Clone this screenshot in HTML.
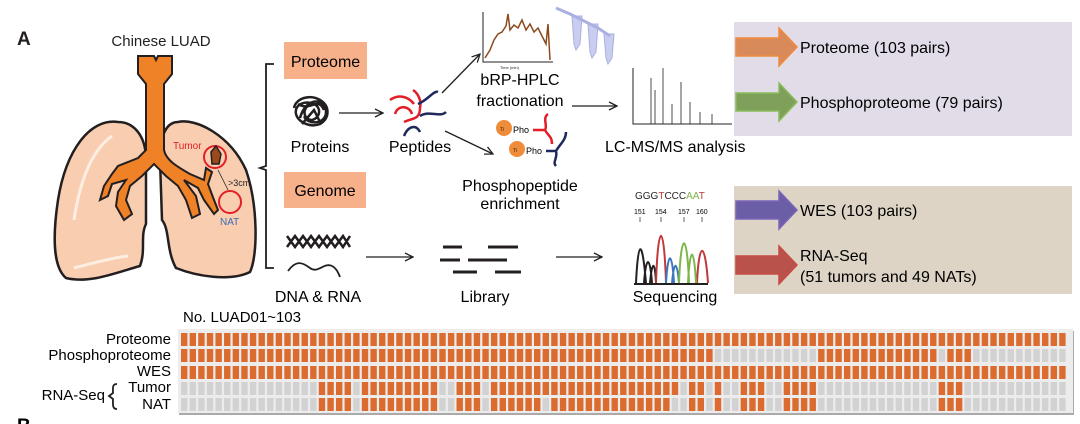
<!DOCTYPE html>
<html><head><meta charset="utf-8"><style>
html,body{margin:0;padding:0;background:#fff;}
body{width:1080px;height:424px;position:relative;overflow:hidden;font-family:"Liberation Sans",Arial,sans-serif;color:#231f20;}
</style></head><body>
<svg width="1080" height="424" style="position:absolute;left:0;top:0" font-family="Liberation Sans, Arial, sans-serif">
<defs>
<marker id="ah" markerWidth="10" markerHeight="10" refX="9" refY="5" orient="auto" markerUnits="userSpaceOnUse"><path d="M1,1 L9,5 L1,9" fill="none" stroke="#231f20" stroke-width="1.3"/></marker>
</defs>
<text x="17" y="45" font-size="19" font-weight="bold" fill="#231f20">A</text>
<text x="161" y="46" font-size="15" text-anchor="middle" fill="#231f20">Chinese LUAD</text>
<path d="M118,122 C90,118 66,150 58,200 C52,240 54,268 66,278 C90,284 118,272 140,266 C146,250 140,236 146,224 L146,160 C146,136 134,122 118,122 Z" fill="#f9cdb0" stroke="#231f20" stroke-width="2.5"/>
<path d="M178,122 C196,118 230,135 246,170 C258,205 258,255 250,272 C230,282 196,276 176,268 C166,250 170,230 162,220 L160,160 C160,136 166,122 178,122 Z" fill="#f9cdb0" stroke="#231f20" stroke-width="2.5"/>
<path d="M112,136 C92,150 80,180 74,220" stroke="#fdeee2" stroke-width="3" fill="none"/>
<path d="M74,268 C90,264 110,258 128,256" stroke="#fdeee2" stroke-width="3" fill="none"/>
<path d="M138,56 L154,56 L156,60 L158,56 L172,56 L172,74 L164,84 L164,150 C166,160 176,166 190,174 L204,180 L206,168 L212,172 L208,184 L214,200 L218,210 L214,214 L204,200 L198,188 L184,180 L196,196 L200,214 L192,218 L186,200 L178,186 L166,176 L154,164 L142,176 L130,186 L126,200 L132,214 L124,220 L116,206 L118,192 L126,180 L112,184 L108,196 L100,200 L104,186 L112,174 L118,166 L138,158 L146,150 L146,84 L138,74 Z" fill="#ef8227" stroke="#231f20" stroke-width="2"/>
<circle cx="215" cy="157" r="11" fill="none" stroke="#e21f26" stroke-width="2"/>
<path d="M211,152 L216,146 L221,154 L219,164 L212,164 Z" fill="#9b4a1c" stroke="#231f20" stroke-width="1.5"/>
<text x="173" y="149" font-size="10" fill="#e21f26">Tumor</text>
<circle cx="230" cy="202" r="11" fill="none" stroke="#e21f26" stroke-width="2"/>
<text x="220" y="225" font-size="10" fill="#3c6ab3">NAT</text>
<path d="M218,170 L228,190" stroke="#231f20" stroke-width="0.8"/>
<text x="228" y="186" font-size="9" fill="#231f20">&gt;3cm</text>
<path d="M274,64 L266,64 L266,166 L260,168 L266,170 L266,268 L274,268" fill="none" stroke="#231f20" stroke-width="1.8"/>
<rect x="284" y="42" width="83" height="37" fill="#f6b08a"/>
<text x="325.5" y="67" font-size="16" text-anchor="middle">Proteome</text>
<rect x="284" y="172" width="82" height="36" fill="#f6b08a"/>
<text x="325" y="196" font-size="16" text-anchor="middle">Genome</text>
<path d="M294,108 C296,98 310,94 320,100 C330,106 330,118 320,124 C310,128 298,122 296,114 C294,104 306,100 314,104 C322,108 320,118 312,120 C304,120 302,110 308,106 M300,118 C306,96 326,98 326,112 C326,124 308,126 304,116 M298,104 C310,112 318,96 324,110 M302,124 L314,110 L320,122" fill="none" stroke="#231f20" stroke-width="2.5"/>
<text x="320" y="152" font-size="16" text-anchor="middle">Proteins</text>
<line x1="339" y1="113" x2="383" y2="113" stroke="#231f20" stroke-width="1.3" marker-end="url(#ah)"/>
<path d="M390,100 C398,94 408,96 414,104 M395,114 C398,104 410,106 412,114 M404,122 C412,118 420,120 420,108 C422,98 416,92 413,90" fill="none" stroke="#e21f26" stroke-width="2.5"/>
<path d="M418,104 C428,100 434,90 438,92 M420,116 C430,110 440,118 446,112 M404,136 C408,126 416,124 420,132" fill="none" stroke="#1f2a5c" stroke-width="2.5"/>
<text x="420" y="152" font-size="16" text-anchor="middle">Peptides</text>
<line x1="442" y1="93" x2="480" y2="54" stroke="#231f20" stroke-width="1.3" marker-end="url(#ah)"/>
<line x1="445" y1="131" x2="493" y2="154" stroke="#231f20" stroke-width="1.3" marker-end="url(#ah)"/>
<path d="M483,12 L483,62 L553,62" fill="none" stroke="#231f20" stroke-width="1"/>
<path d="M485,58 L490,50 L494,40 L498,34 L502,32 L506,26 L508,14 L510,30 L514,25 L518,28 L522,20 L526,30 L530,24 L534,32 L538,28 L542,36 L546,44 L548,24 L550,60" fill="none" stroke="#8b4a1e" stroke-width="1.5"/>
<text x="500" y="69" font-size="4" fill="#231f20">Time (min)</text>
<g fill="#c9cdf0" stroke="#aab0e0" stroke-width="1">
<path d="M572,16 L582,16 L580,44 L576,50 L574,44 Z"/>
<path d="M588,24 L598,24 L596,52 L592,58 L590,52 Z"/>
<path d="M604,34 L614,34 L612,58 L608,64 L606,58 Z"/>
<path d="M556,8 L570,14 L598,28 L610,36" fill="none" stroke="#aab0e0" stroke-width="3"/>
</g>
<text x="520" y="85" font-size="16" text-anchor="middle">bRP-HPLC</text>
<text x="520" y="106" font-size="16" text-anchor="middle">fractionation</text>
<line x1="572" y1="106" x2="617" y2="106" stroke="#231f20" stroke-width="1.3" marker-end="url(#ah)"/>
<path d="M633,68 L633,124 L732,124" fill="none" stroke="#231f20" stroke-width="1"/>
<g stroke="#231f20" stroke-width="0.8">
<line x1="651" y1="124" x2="651" y2="78"/><line x1="655" y1="124" x2="655" y2="90"/><line x1="663" y1="124" x2="663" y2="68"/><line x1="672" y1="124" x2="672" y2="104"/><line x1="681" y1="124" x2="681" y2="82"/><line x1="690" y1="124" x2="690" y2="102"/><line x1="700" y1="124" x2="700" y2="112"/><line x1="712" y1="124" x2="712" y2="114"/>
</g>
<text x="605" y="152" font-size="16">LC-MS/MS analysis</text>
<circle cx="504" cy="128" r="8" fill="#ef8c3a"/><text x="500" y="131" font-size="5" fill="#231f20">Ti</text>
<text x="513" y="133" font-size="9">Pho</text>
<circle cx="517" cy="149" r="8" fill="#ef8c3a"/><text x="513" y="152" font-size="5" fill="#231f20">Ti</text>
<text x="526" y="154" font-size="9">Pho</text>
<path d="M533,130 L545,130 C548,126 542,118 548,114 M545,130 C548,136 552,136 552,144" fill="none" stroke="#e21f26" stroke-width="2.5"/>
<path d="M546,151 L556,151 C560,144 566,140 566,132 M556,151 C558,158 552,162 556,166" fill="none" stroke="#1f2a5c" stroke-width="2.5"/>
<text x="520" y="191" font-size="16" text-anchor="middle">Phosphopeptide</text>
<text x="520" y="209" font-size="16" text-anchor="middle">enrichment</text>
<path d="M287,236 L295,247 L303,236 L311,247 L319,236 L327,247 L335,236 L343,247 L350,236 M287,247 L295,236 L303,247 L311,236 L319,247 L327,236 L335,247 L343,236 L350,247" fill="none" stroke="#231f20" stroke-width="2.5"/>
<path d="M288,271 C296,260 302,262 310,268 C318,274 324,262 332,266 C336,268 338,272 340,277" fill="none" stroke="#231f20" stroke-width="1.8"/>
<text x="318" y="302" font-size="16" text-anchor="middle">DNA &amp; RNA</text>
<line x1="366" y1="257" x2="413" y2="257" stroke="#231f20" stroke-width="1.3" marker-end="url(#ah)"/>
<g stroke="#231f20" stroke-width="3">
<line x1="443" y1="247" x2="462" y2="247"/><line x1="488" y1="247" x2="518" y2="247"/>
<line x1="440" y1="260" x2="460" y2="260"/><line x1="468" y1="260" x2="507" y2="260"/>
<line x1="453" y1="272" x2="477" y2="272"/><line x1="495" y1="272" x2="521" y2="272"/>
</g>
<text x="485" y="302" font-size="16" text-anchor="middle">Library</text>
<line x1="556" y1="257" x2="602" y2="257" stroke="#231f20" stroke-width="1.3" marker-end="url(#ah)"/>
<text x="635" y="199" font-size="10"><tspan fill="#231f20">GGG</tspan><tspan fill="#c0393b">T</tspan><tspan fill="#231f20">CCC</tspan><tspan fill="#7cb648">AA</tspan><tspan fill="#c0393b">T</tspan></text>
<text x="634" y="214" font-size="7">151</text><text x="655" y="214" font-size="7">154</text><text x="678" y="214" font-size="7">157</text><text x="696" y="214" font-size="7">160</text>
<g stroke="#231f20" stroke-width="0.7"><line x1="640" y1="217" x2="640" y2="222"/><line x1="661" y1="217" x2="661" y2="222"/><line x1="684" y1="217" x2="684" y2="222"/><line x1="702" y1="217" x2="702" y2="222"/></g>
<path d="M636,283 C638,240 642,236 646,283 M644,283 C646,255 650,255 652,283 M650,283 C652,260 655,260 656,283" fill="none" stroke="#231f20" stroke-width="2"/>
<path d="M656,283 C658,220 664,220 666,283 M697,283 C699,240 705,240 708,283" fill="none" stroke="#c0393b" stroke-width="2"/>
<path d="M666,283 C668,250 672,250 674,283 M672,283 C674,260 677,260 679,283" fill="none" stroke="#3a77bf" stroke-width="2"/>
<path d="M679,283 C681,230 687,230 689,283 M688,283 C690,245 694,245 696,283" fill="none" stroke="#7cb648" stroke-width="2"/>
<line x1="634" y1="284" x2="708" y2="284" stroke="#231f20" stroke-width="2"/>
<text x="675" y="302" font-size="16" text-anchor="middle">Sequencing</text>
<rect x="734" y="22" width="338" height="114" fill="#e1dce8"/>
<rect x="734" y="186" width="338" height="108" fill="#ddd4c6"/>
<path d="M736,38 L779,38 L779,28 L797,47 L779,66 L779,56 L736,56 Z" fill="#d98a5a" stroke="#f08a3c" stroke-width="1.5"/>
<path d="M736,93 L779,93 L779,83 L797,102 L779,121 L779,111 L736,111 Z" fill="#7fa05a" stroke="#8cbc5a" stroke-width="1.5"/>
<path d="M736,201 L779,201 L779,191 L797,210 L779,229 L779,219 L736,219 Z" fill="#6c5ea6" stroke="#7a64b8" stroke-width="1.5"/>
<path d="M736,256 L779,256 L779,246 L797,265 L779,284 L779,274 L736,274 Z" fill="#b8524a" stroke="#c84a44" stroke-width="1.5"/>
<text x="800" y="53" font-size="16">Proteome (103 pairs)</text>
<text x="800" y="108" font-size="16">Phosphoproteome (79 pairs)</text>
<text x="800" y="216" font-size="16">WES (103 pairs)</text>
<text x="800" y="261" font-size="16">RNA-Seq</text>
<text x="800" y="282" font-size="16">(51 tumors and 49 NATs)</text>
<text x="183" y="322" font-size="15">No. LUAD01~103</text>
<g font-size="15" text-anchor="end">
<text x="171" y="344">Proteome</text>
<text x="171" y="360">Phosphoproteome</text>
<text x="171" y="376">WES</text>
<text x="171" y="392">Tumor</text>
<text x="171" y="409">NAT</text>
</g>
<text x="105" y="400" font-size="15" text-anchor="end">RNA-Seq</text>
<path d="M117,384 C112,384 113,388 113,393 L109,396 L113,399 C113,404 112,409 117,409" fill="none" stroke="#231f20" stroke-width="1.8"/>
<text x="17" y="432" font-size="19" font-weight="bold">B</text>
<rect x="179" y="331" width="895" height="84" fill="#aaa"/>
<rect x="178" y="329" width="895" height="84" fill="#ececec"/>
<g id="cells"></g>
</svg>
<script>
var ns="http://www.w3.org/2000/svg",g=document.getElementById("cells");
function rng(a){var s=new Array(103).fill(0);a.forEach(function(r){for(var i=r[0];i<=r[1];i++)s[i]=1;});return s;}
var rows=[
rng([[0,102]]),
rng([[0,61],[74,87],[89,91]]),
rng([[0,102]]),
rng([[16,19],[21,29],[32,34],[36,57],[59,60],[62,62],[65,67],[70,73],[88,90]]),
rng([[16,19],[21,29],[32,34],[36,41],[43,56],[59,60],[62,62],[65,67],[70,73],[88,90]])
];
var ys=[333,349,366,382,398];
for(var r=0;r<5;r++)for(var c=0;c<103;c++){var e=document.createElementNS(ns,"rect");
e.setAttribute("x",(181+c*8.61).toFixed(2));e.setAttribute("y",ys[r]);e.setAttribute("width",6.4);e.setAttribute("height",13);
e.setAttribute("fill",rows[r][c]?"#db6b2e":"#d2d2d2");g.appendChild(e);}
</script>
</body></html>
